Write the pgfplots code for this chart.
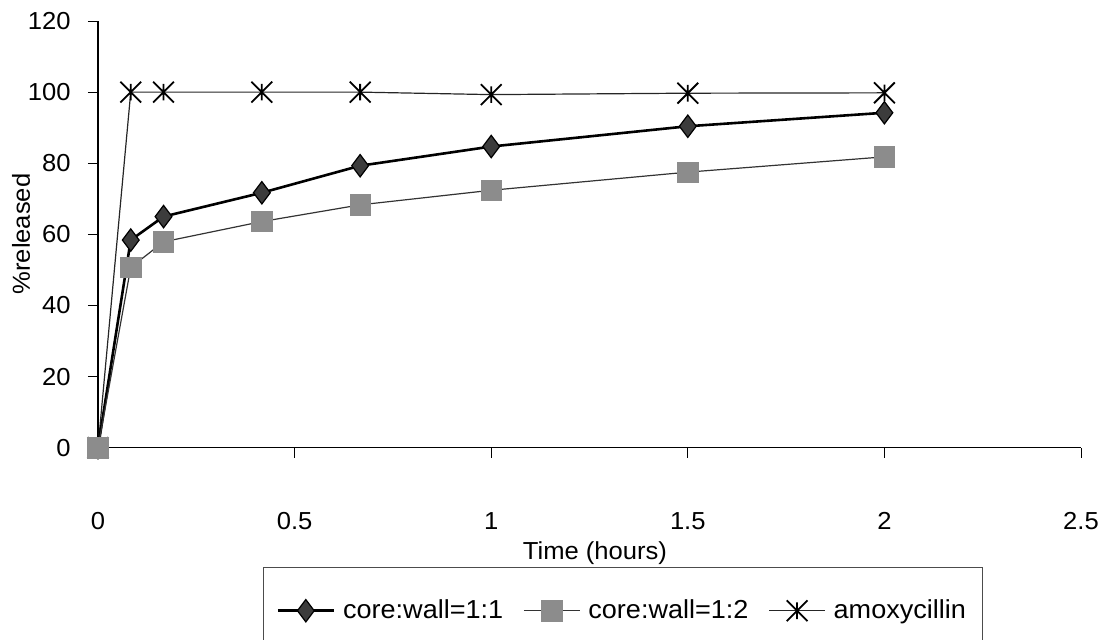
\documentclass[border=0pt]{standalone}
\usepackage{fontspec}
\setmainfont{Liberation Sans}[FakeStretch=1.04]
\usepackage{pgfplots}
\pgfplotsset{compat=1.18}
\pgfdeclareplotmark{xstar}{%
  \pgfpathmoveto{\pgfqpoint{-\pgfplotmarksize}{-\pgfplotmarksize}}%
  \pgfpathlineto{\pgfqpoint{\pgfplotmarksize}{\pgfplotmarksize}}%
  \pgfpathmoveto{\pgfqpoint{-\pgfplotmarksize}{\pgfplotmarksize}}%
  \pgfpathlineto{\pgfqpoint{\pgfplotmarksize}{-\pgfplotmarksize}}%
  \pgfpathmoveto{\pgfqpoint{0pt}{-0.8\pgfplotmarksize}}%
  \pgfpathlineto{\pgfqpoint{0pt}{0.8\pgfplotmarksize}}%
  \pgfusepathqstroke
}
\definecolor{diafill}{HTML}{3C3C3C}
\definecolor{sqfill}{HTML}{8C8C8C}
\begin{document}
\fontsize{12}{14}\selectfont
\begin{tikzpicture}
\useasboundingbox (-49pt,-95.65pt) rectangle (501.5pt,223.85pt);
\clip (-49pt,-95.65pt) rectangle (501.5pt,223.85pt);
\begin{axis}[
  scale only axis, width=491.5pt, height=213.35pt,
  xmin=0, xmax=2.5, ymin=0, ymax=120,
  axis x line=bottom, axis y line=left,
  axis line style={-, black, line width=0.6pt},
  xtick={0,0.5,1,1.5,2,2.5}, xticklabels={0,0.5,1,1.5,2,2.5},
  ytick={0,20,40,60,80,100,120},
  tick align=outside, major tick length=5pt,
  tick style={black, line width=0.5pt},
  /pgf/number format/assume math mode=true,
  ticklabel style={font=\fontsize{12.3}{14}\selectfont},
  xticklabel style={yshift=-23pt},
  yticklabel style={xshift=-4.5pt},
  xlabel={Time (hours)}, ylabel={\%released},
  label style={font=\fontsize{12.3}{14}\selectfont},
  xlabel style={at={(axis description cs:0.5056,-0.2468)}, anchor=center},
  ylabel style={at={(axis description cs:-0.0783,0.5008)}, anchor=center},
  clip=false,
  legend columns=3,
  legend cell align=left,
  legend image code/.code={\draw[mark repeat=2,mark phase=2,#1] plot coordinates {(0pt,0pt) (14pt,0pt) (28pt,0pt)};},
  legend style={at={(axis description cs:0.1679,-0.2796)}, anchor=north west,
    draw=black!70, line width=0.5pt, inner xsep=6.5pt, inner ysep=14pt,
    font=\fontsize{13}{15}\selectfont,
    /tikz/every even column/.append style={column sep=8pt},
    /tikz/every odd column/.append style={column sep=2pt}},
]
\addplot[forget plot, black!85, line width=0.6pt, mark=xstar, mark size=5.2pt, mark options={line width=0.9pt, black}]
  coordinates {(0,0) (0.0833,100) (0.1667,100) (0.4167,100) (0.6667,100) (1,99.3) (1.5,99.7) (2,99.8)};
\addplot[black, line width=1.3pt, mark=diamond*, mark size=5.6pt, mark options={fill=diafill, draw=black, line width=0.6pt}]
  coordinates {(0,0) (0.0833,58.4) (0.1667,65.0) (0.4167,71.7) (0.6667,79.3) (1,84.7) (1.5,90.4) (2,94.2)};
\addlegendentry{core:wall=1:1}
\addplot[black!80, line width=0.6pt, mark=square*, mark size=5.1pt, mark options={fill=sqfill, draw=sqfill, line width=0.3pt}]
  coordinates {(0,0) (0.0833,50.7) (0.1667,57.9) (0.4167,63.6) (0.6667,68.3) (1,72.4) (1.5,77.5) (2,81.8)};
\addlegendentry{core:wall=1:2}
\addlegendimage{black!85, line width=0.6pt, mark=xstar, mark size=5.2pt, mark options={line width=0.9pt, black}}
\addlegendentry{amoxycillin}
\end{axis}
\end{tikzpicture}
\end{document}
